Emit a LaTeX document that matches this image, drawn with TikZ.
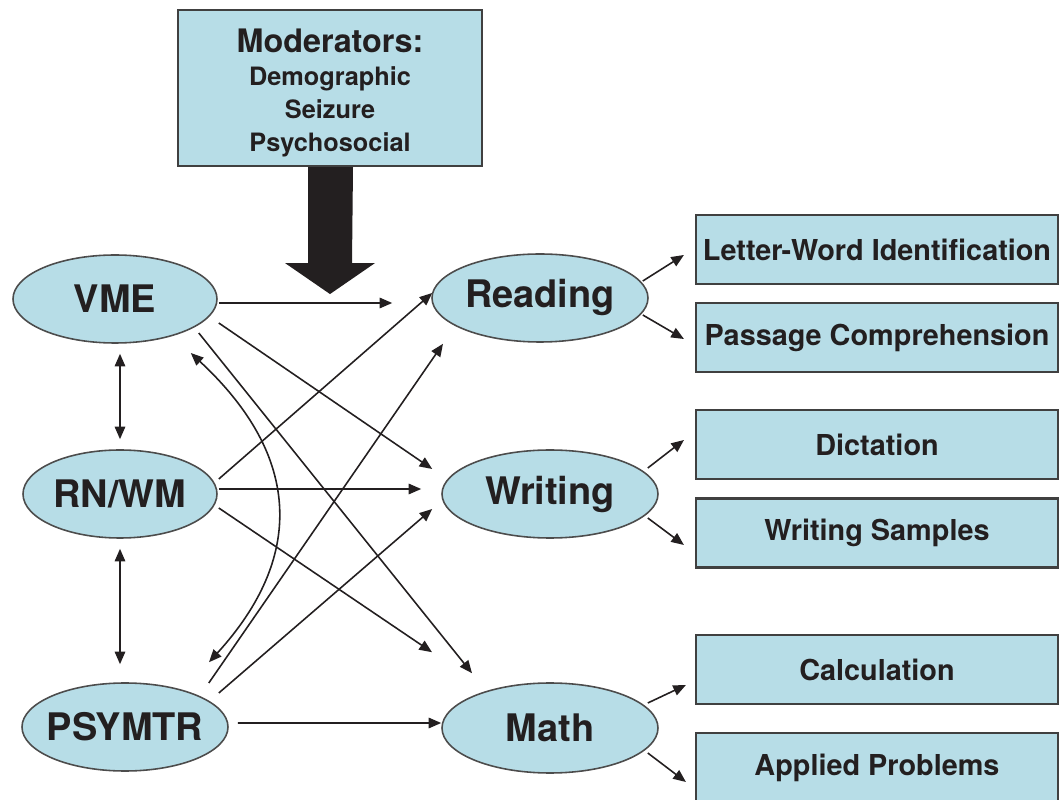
\documentclass[tikz,border=0pt]{standalone}
\usepackage{fontspec}
\setmainfont{TeX Gyre Heros}
\usetikzlibrary{arrows.meta,shapes.geometric}

\begin{document}
\begin{tikzpicture}[
	line width=.45pt,
	construct/.style={ellipse, draw=gray!60!black, fill=lightblue, minimum height=.88cm, inner sep=0pt, text=ink, font=\fontsize{10.8}{13}\selectfont\bfseries},
	measure/.style={rectangle, draw=gray!50!black, line width=.6pt, fill=lightblue, minimum width=3.62cm, minimum height=.69cm, inner sep=0pt, text=ink, font=\fontsize{8.2}{10}\selectfont\bfseries},
	link/.style={ink, -{Triangle[length=3.6pt,width=3pt]}},
	twoway/.style={ink, {Triangle[length=3.6pt,width=3pt]}-{Triangle[length=3.6pt,width=3pt]}}
	]
	\definecolor{lightblue}{RGB}{183, 221, 231}
	\definecolor{ink}{RGB}{35, 31, 32}
	\useasboundingbox (0, 0) rectangle (10.62, -8);
	
	% moderators
	\node[rectangle, draw=gray!50!black, line width=.6pt, fill=lightblue, minimum width=3.04cm, minimum height=1.56cm, inner ysep=1pt, align=center, text=ink, font=\fontsize{7.2}{9.4}\selectfont\bfseries] (mod) at (3.30, -0.88) {\rule{0pt}{9.5pt}{\fontsize{9.2}{11}\selectfont Moderators:}\\Demographic\\Seizure\\Psychosocial};
	\fill[ink] ([xshift=-0.22cm]mod.south) -- ++(0, -0.96) -- ++(-0.23, 0) -- ([yshift=-1.27cm]mod.south) -- ++(0.45, 0.31) -- ++(-0.23, 0) -- ([xshift=0.23cm]mod.south) -- cycle;
	
	% predictors
	\node[construct, minimum width=2.04cm] (VME) at (1.15, -2.99) {VME};
	\node[construct, minimum width=1.94cm] (RNWM) at (1.20, -4.94) {RN/WM};
	\node[construct, minimum width=2.06cm, inner xsep=-0.06cm] (PSYMTR) at (1.25, -7.27) {PSYMTR};
	
	% outcomes
	\node[construct, minimum width=2.16cm] (Reading) at (5.40, -2.98) {Reading};
	\node[construct, minimum width=2.16cm] (Writing) at (5.50, -4.94) {Writing};
	\node[construct, minimum width=2.16cm, minimum height=.90cm] (Math) at (5.50, -7.28) {Math};
	
	% subtests
	\node[measure] (lw) at (8.77, -2.495) {Letter-Word Identification};
	\node[measure] (pc) at (8.77, -3.375) {Passage Comprehension};
	\node[measure] (dict) at (8.77, -4.445) {Dictation};
	\node[measure] (ws) at (8.77, -5.33) {Writing Samples};
	\node[measure] (calc) at (8.77, -6.695) {Calculation};
	\node[measure] (ap) at (8.77, -7.675) {Applied Problems};
	
	% paths
	\draw[link] ([shift={(0.01, -0.04)}]VME.east) -- ([shift={(-0.39, -0.05)}]Reading.west);
	\draw[link] ([shift={(0.01, -0.24)}]VME.east) -- ([shift={(-0.09, 0.25)}]Writing.west);
	\draw[link] ([shift={(-0.19, -0.34)}]VME.east) -- ([shift={(-0.78, 0.09)}]Math.north);
	\draw[link] ([shift={(0.01, 0.15)}]RNWM.east) -- ([shift={(0.01, 0.05)}]Reading.west);
	\draw[link] ([shift={(0.01, 0.05)}]RNWM.east) -- ([shift={(-0.20, 0.05)}]Writing.west);
	\draw[link] ([shift={(0.01, -0.14)}]RNWM.east) -- ([shift={(-1.18, 0.30)}]Math.north);
	\draw[link] ([shift={(-0.20, 0.44)}]PSYMTR.east) -- ([shift={(-0.97, -0.01)}]Reading.south);
	\draw[link] ([shift={(-0.10, 0.34)}]PSYMTR.east) -- ([shift={(-0.09, -0.15)}]Writing.west);
	\draw[link] ([shift={(0.09, 0.04)}]PSYMTR.east) -- ([yshift=0.05cm]Math.west);
	
	% correlations
	\draw[twoway] ([shift={(0.05, -0.10)}]VME.south) -- ([yshift=0.10cm]RNWM.north);
	\draw[twoway] ([yshift=-0.10cm]RNWM.south) -- ([shift={(-0.05, 0.18)}]PSYMTR.north);
	\draw[twoway] ([shift={(-0.27, -0.54)}]VME.east) .. controls +(1.13, -1.05) and +(0.94, 1.03) .. ([shift={(0.84, 0.20)}]PSYMTR.north);
	
	% outcomes to subtests
	\draw[link] ([shift={(-0.06, 0.17)}]Reading.east) -- ([shift={(-0.11, -0.055)}]lw.west);
	\draw[link] ([shift={(-0.06, -0.17)}]Reading.east) -- ([shift={(-0.11, -0.015)}]pc.west);
	\draw[link] ([shift={(-0.11, 0.26)}]Writing.east) -- ([shift={(-0.11, 0.045)}]dict.west);
	\draw[link] ([shift={(-0.11, -0.24)}]Writing.east) -- ([shift={(-0.11, -0.12)}]ws.west);
	\draw[link] ([shift={(-0.11, 0.25)}]Math.east) -- ([shift={(-0.09, -0.155)}]calc.west);
	\draw[link] ([shift={(-0.11, -0.25)}]Math.east) -- ([shift={(-0.09, -0.145)}]ap.west);
\end{tikzpicture}
\end{document}
